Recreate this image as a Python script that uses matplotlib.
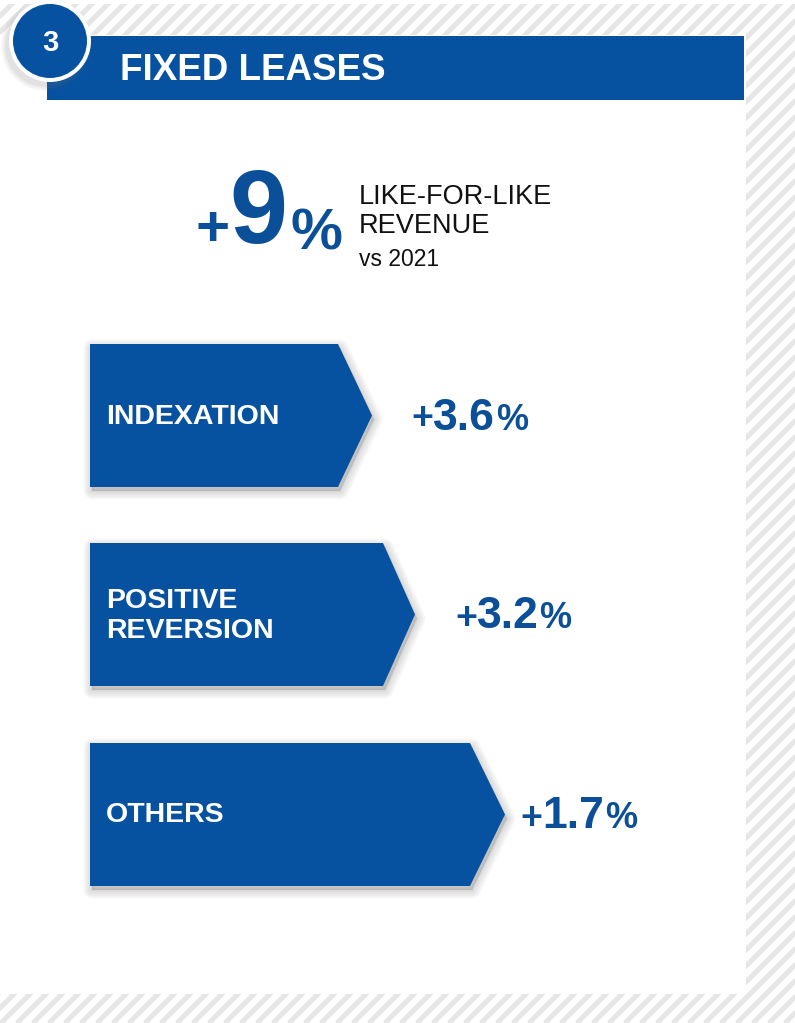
import matplotlib
matplotlib.use("Agg")
import matplotlib.pyplot as plt
from matplotlib.patches import Polygon, Rectangle, Circle
from matplotlib.lines import Line2D

# ---- data ----
section_number = "3"
section_title = "FIXED LEASES"
headline_value = 9
headline_lines = ["LIKE-FOR-LIKE", "REVENUE"]
headline_sub = "vs 2021"
categories = ["INDEXATION", "POSITIVE\nREVERSION", "OTHERS"]
values = [3.6, 3.2, 1.7]

# ---- layout (pixel coordinates, origin top-left) ----
W, H = 795, 1023
box_top = [344, 543, 743]
box_h = 143
box_left = 90
box_right = [338, 383, 470]
box_tip = [372, 415, 505]
value_x = [413, 457, 522]

BLUE = "#0652a0"
TXT_BLUE = "#0a4f98"
STRIPE = "#e6e6e6"
FONT = "Liberation Sans"

plt.rcParams["font.family"] = [FONT, "DejaVu Sans"]

fig = plt.figure(figsize=(W / 100, H / 100), dpi=100)
ax = fig.add_axes([0, 0, 1, 1])
ax.set_xlim(0, W)
ax.set_ylim(H, 0)
ax.axis("off")

# striped background
for x0 in range(-H, W + 20, 16):
    ax.add_line(Line2D([x0, x0 + H], [H, 0], color=STRIPE, lw=3.6,
                       solid_capstyle="butt", zorder=0))
# white strip at very top and white panel
ax.add_patch(Rectangle((0, 0), W, 4, facecolor="white", edgecolor="none", zorder=1))
ax.add_patch(Rectangle((0, 35), 746, 994 - 35, facecolor="white",
                       edgecolor="none", zorder=1))


def soft_shadow(verts, dx, dy, z):
    sv = [(x + dx, y + dy) for x, y in verts]
    for lw in [12, 9, 6, 3, 1]:
        ax.add_patch(Polygon(sv, closed=True, facecolor="#808080",
                             edgecolor="#808080", lw=lw, alpha=0.07,
                             joinstyle="round", zorder=z))


# header bar
hdr = [(47, 36), (744, 36), (744, 100), (47, 100)]
ax.add_patch(Polygon(hdr, closed=True, facecolor=BLUE, edgecolor="none", zorder=3))
ax.text(120, 80, section_title, color="white", fontsize=26.5, fontweight="bold",
        ha="left", va="baseline", zorder=6)

# badge circle with shadow
for r, a in [(45, 0.05), (43, 0.07), (41, 0.09)]:
    ax.add_patch(Circle((46, 46), r, facecolor="#707070", edgecolor="none",
                        alpha=a, zorder=4))
ax.add_patch(Circle((50, 41), 41, facecolor="white", edgecolor="none", zorder=5))
ax.add_patch(Circle((50, 41), 37, facecolor=BLUE, edgecolor="none", zorder=5))
ax.text(50, 43, section_number, color="white", fontsize=21, fontweight="bold",
        ha="center", va="center", zorder=6)

fig.canvas.draw()
renderer = fig.canvas.get_renderer()
inv = ax.transData.inverted()


def chain(parts, x, y, z=6):
    """parts: (text, fontsize, weight, gap_before, baseline_shift); left-to-right."""
    cx = x
    for s, fs, wt, gap, dy in parts:
        t = ax.text(cx + gap, y + dy, s, fontsize=fs, color=TXT_BLUE,
                    fontweight=wt, ha="left", va="baseline", zorder=z)
        bb = t.get_window_extent(renderer=renderer)
        cx = inv.transform((bb.x1, bb.y0))[0]
    return cx


# headline +9%
chain([("+", 42, "bold", 0, 3), (f"{headline_value}", 75, "bold", 0, 0),
       ("%", 42, "bold", 3, 7)], 195, 243)
ax.text(359, 204, headline_lines[0], fontsize=19.5, color="#111111",
        ha="left", va="baseline", zorder=6)
ax.text(359, 233, headline_lines[1], fontsize=19.5, color="#111111",
        ha="left", va="baseline", zorder=6)
ax.text(359, 266, headline_sub, fontsize=16.5, color="#111111",
        ha="left", va="baseline", zorder=6)

# arrow boxes
for cat, val, yt, xr, xt, vx in zip(categories, values, box_top, box_right,
                                    box_tip, value_x):
    yb = yt + box_h
    ym = (yt + yb) / 2
    verts = [(box_left, yt), (xr, yt), (xt, ym), (xr, yb), (box_left, yb)]
    soft_shadow(verts, 2, 4, 2)
    ax.add_patch(Polygon(verts, closed=True, facecolor=BLUE, edgecolor="none",
                         zorder=3))
    ax.text(106, ym + 1, cat, color="white", fontsize=20.5, fontweight="bold",
            ha="left", va="center", linespacing=1.2, zorder=6)
    chain([("+", 27, "bold", 0, 0), (f"{val:.1f}", 32, "bold", 0, 0),
           ("%", 26, "bold", 1, 0)], vx - 2, ym + 14)

fig.savefig("out.png", dpi=100, facecolor="white")
